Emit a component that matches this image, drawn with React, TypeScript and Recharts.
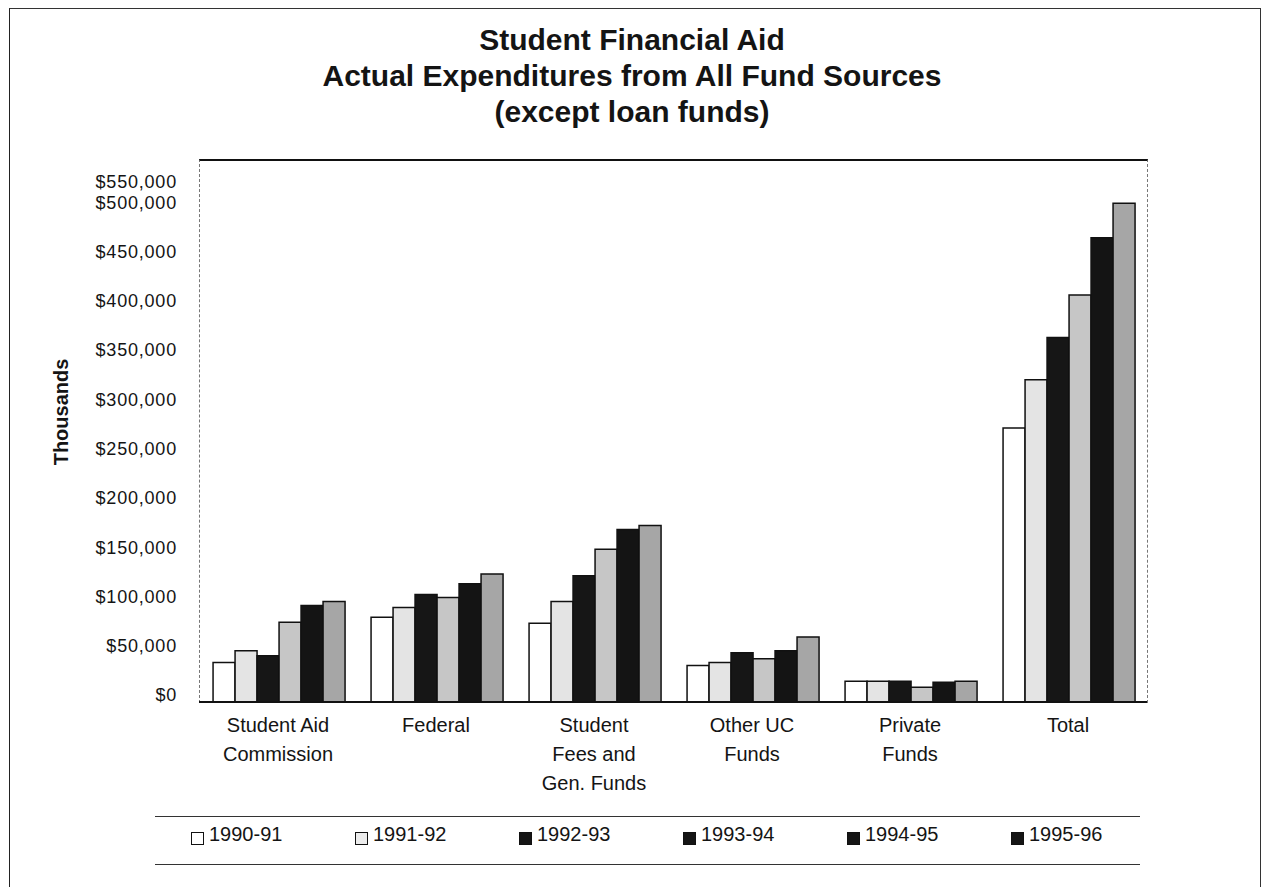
import React from "react";
import { BarChart, Bar, XAxis, YAxis } from "recharts";

// fund source categories (newline = label line break)
const categories = [
  "Student Aid\nCommission",
  "Federal",
  "Student\nFees and\nGen. Funds",
  "Other UC\nFunds",
  "Private\nFunds",
  "Total",
];

const years = ["1990-91", "1991-92", "1992-93", "1993-94", "1994-95", "1995-96"];

// values in thousands of dollars, one array per fiscal year (same order as categories)
const fy1990 = [40000, 86000, 80000, 37000, 21000, 278000];
const fy1991 = [52000, 96000, 102000, 40000, 21000, 327000];
const fy1992 = [47000, 109000, 128000, 50000, 21000, 370000];
const fy1993 = [81000, 106000, 155000, 44000, 15000, 413000];
const fy1994 = [98000, 120000, 175000, 52000, 20000, 471000];
const fy1995 = [102000, 130000, 179000, 66000, 21000, 506000];

const yTicks = [0, 50000, 100000, 150000, 200000, 250000, 300000, 350000, 400000, 450000, 500000, 550000];

const seriesValues = [fy1990, fy1991, fy1992, fy1993, fy1994, fy1995];
const barFills = ["#ffffff", "#e4e4e4", "#161616", "#c6c6c6", "#141414", "#a6a6a6"];
const legendFills = ["#ffffff", "#ececec", "#151515", "#151515", "#151515", "#151515"];

const data = categories.map((name, i) => {
  const row: any = { name };
  years.forEach((yr, j) => {
    row[yr] = seriesValues[j][i];
  });
  return row;
});

const FONT = '"Liberation Sans", Arial, Helvetica, sans-serif';
const INK = "#141414";

const fmtMoney = (v: number) => "$" + v.toLocaleString("en-US");

// the scanned original prints its top label just under the frame line
const YTick = ({ x, y, payload }: any) => (
  <text
    x={x}
    y={payload.value === 550000 ? y + 22 : y - 7}
    dy="0.355em"
    textAnchor="end"
    fill={INK}
    fontSize={18}
    letterSpacing={0.8}
    fontFamily={FONT}
  >
    {fmtMoney(payload.value)}
  </text>
);

const XTick = ({ x, y, payload }: any) => {
  const lines = String(payload.value).split("\n");
  return (
    <text x={x} y={y} textAnchor="middle" fill={INK} fontSize={20} fontFamily={FONT}>
      {lines.map((ln, i) => (
        <tspan key={i} x={x} dy={i === 0 ? 22 : 29}>
          {ln}
        </tspan>
      ))}
    </text>
  );
};

export default function App() {
  return (
    <div
      style={{
        position: "absolute",
        left: 0,
        top: 0,
        width: 1264,
        height: 887,
        background: "#fff",
        fontFamily: FONT,
        color: INK,
        overflow: "hidden",
      }}
    >
      {/* scanned page frame */}
      <div
        style={{
          position: "absolute",
          left: 9,
          top: 8,
          width: 1250,
          height: 880,
          borderLeft: "1.5px solid #222",
          borderTop: "1.5px solid #333",
          borderRight: "1.5px solid #333",
        }}
      />

      {/* title */}
      <div
        style={{
          position: "absolute",
          left: 0,
          top: 22,
          width: 1264,
          textAlign: "center",
          fontWeight: "bold",
          fontSize: 30,
          lineHeight: "36px",
        }}
      >
        <div>Student Financial Aid</div>
        <div>Actual Expenditures from All Fund Sources</div>
        <div>(except loan funds)</div>
      </div>

      {/* y axis title */}
      <div
        style={{
          position: "absolute",
          left: 61,
          top: 412,
          transform: "translate(-50%, -50%) rotate(-90deg)",
          fontWeight: "bold",
          fontSize: 20,
          whiteSpace: "nowrap",
        }}
      >
        Thousands
      </div>

      {/* plot frame: solid top, dotted sides */}
      <div
        style={{
          position: "absolute",
          left: 199,
          top: 159,
          width: 947,
          height: 542,
          borderTop: "2px solid #111",
          borderLeft: "1px dashed #777",
          borderRight: "1px dashed #777",
        }}
      />

      <div style={{ position: "absolute", left: 0, top: 0 }}>
        <BarChart
          width={1264}
          height={887}
          data={data}
          margin={{ top: 160, right: 117, left: 0, bottom: 0 }}
          barCategoryGap="8.9%"
          barGap={0}
        >
          <XAxis
            dataKey="name"
            height={185}
            interval={0}
            tickLine={false}
            axisLine={{ stroke: "#111", strokeWidth: 2 }}
            tick={<XTick />}
          />
          <YAxis
            width={199}
            domain={[0, 550000]}
            ticks={yTicks}
            interval={0}
            tickLine={false}
            tickMargin={16}
            axisLine={false}
            tick={<YTick />}
          />
          {years.map((yr, j) => (
            <Bar
              key={yr}
              dataKey={yr}
              fill={barFills[j]}
              stroke="#111"
              strokeWidth={1.5}
              isAnimationActive={false}
            />
          ))}
        </BarChart>
      </div>

      {/* legend */}
      <div
        style={{
          position: "absolute",
          left: 155,
          top: 816,
          width: 985,
          height: 47,
          borderTop: "1.5px solid #333",
          borderBottom: "1.5px solid #333",
        }}
      >
        {years.map((yr, j) => (
          <div key={yr} style={{ position: "absolute", left: 36 + j * 164, top: 0 }}>
            <div
              style={{
                position: "absolute",
                left: 0,
                top: 15,
                width: 11,
                height: 11,
                background: legendFills[j],
                border: "1.5px solid #111",
              }}
            />
            <div
              style={{
                position: "absolute",
                left: 18,
                top: 6,
                fontSize: 20,
                lineHeight: "22px",
                whiteSpace: "nowrap",
              }}
            >
              {yr}
            </div>
          </div>
        ))}
      </div>
    </div>
  );
}
